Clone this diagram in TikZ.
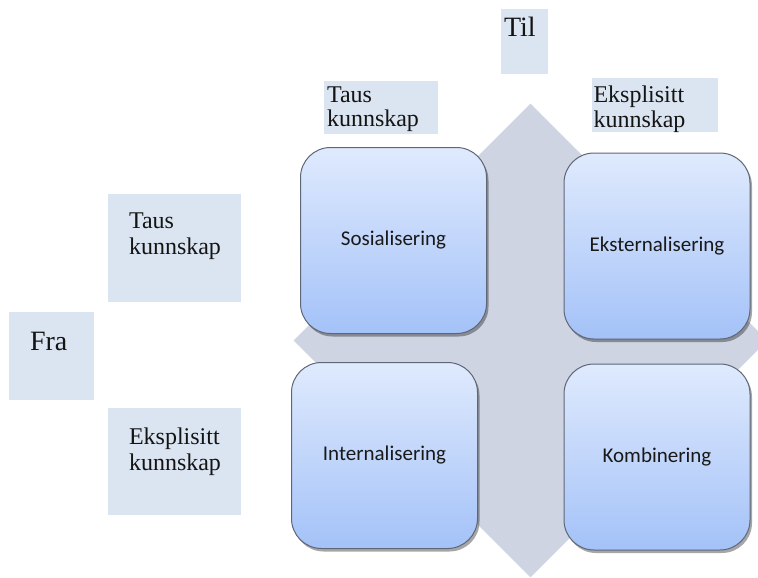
\documentclass[tikz,border=0pt]{standalone}
\usepackage{fontspec}
\setmainfont{Liberation Serif}
\newfontfamily\boxfont{Carlito}
\usetikzlibrary{shapes.geometric,shadows}
\definecolor{lblfill}{RGB}{219,229,241}
\definecolor{diafill}{RGB}{206,212,226}
\definecolor{boxtop}{RGB}{223,234,253}
\definecolor{boxbot}{RGB}{164,194,248}
\definecolor{boxline}{RGB}{95,102,118}
% #1 width, #2 height, #3 left pad, #4 top pad, #5 font size, #6 baselineskip, #7 text
\newcommand\lbltxt[7]{\parbox[t][#2][t]{#1}{\fontsize{#5}{#6}\selectfont\raggedright\leftskip=#3\relax\vspace*{#4}\noindent #7}}
\begin{document}
\begin{tikzpicture}[x=1pt,y=-1pt,
  lbl/.style={rectangle, fill=lblfill, inner sep=0pt, outer sep=0pt, anchor=north west, text=black!92},
  mbox/.style={rectangle, rounded corners=30pt, draw=boxline, line width=1pt,
    top color=boxtop, bottom color=boxbot, minimum width=186pt, minimum height=186pt,
    inner sep=0pt, font=\boxfont\fontsize{21}{25}\selectfont, text=black!90,
    drop shadow={shadow xshift=2pt, shadow yshift=-3pt, opacity=0.35, fill=black}},
  bgdia/.style={diamond, aspect=1, fill=diafill, inner sep=0pt, minimum width=474pt, minimum height=474pt}]
\useasboundingbox (0,0) rectangle (758,578);
\clip (0,0) rectangle (758,578);
% background diamond
\node[bgdia] (bg) at (530.5,340.5) {};
% four rounded boxes
\node[mbox] (sos) at (393.5,240.5) {Sosialisering};
\node[mbox] (eks) at (657,246) {Eksternalisering};
\node[mbox] (int) at (384.5,455.5) {Internalisering};
\node[mbox] (kom) at (657,457) {Kombinering};
% labels
\node[lbl] (til) at (501,9) {\lbltxt{47pt}{65pt}{3pt}{8pt}{28pt}{30pt}{Til}};
\node[lbl] (tautop) at (324,81) {\lbltxt{114pt}{53pt}{3pt}{6pt}{24pt}{24pt}{Taus\\kunnskap}};
\node[lbl] (ekstop) at (592,78) {\lbltxt{126pt}{54pt}{1.5pt}{8pt}{24pt}{25pt}{Eksplisitt\\kunnskap}};
\node[lbl] (tauleft) at (108,194) {\lbltxt{133pt}{108pt}{21pt}{19pt}{24pt}{26pt}{Taus\\kunnskap}};
\node[lbl] (fra) at (9,312) {\lbltxt{85pt}{88pt}{21pt}{20pt}{28pt}{30pt}{Fra}};
\node[lbl] (eksleft) at (108,408) {\lbltxt{133pt}{107pt}{21pt}{20pt}{24pt}{26pt}{Eksplisitt\\kunnskap}};
\end{tikzpicture}
\end{document}
